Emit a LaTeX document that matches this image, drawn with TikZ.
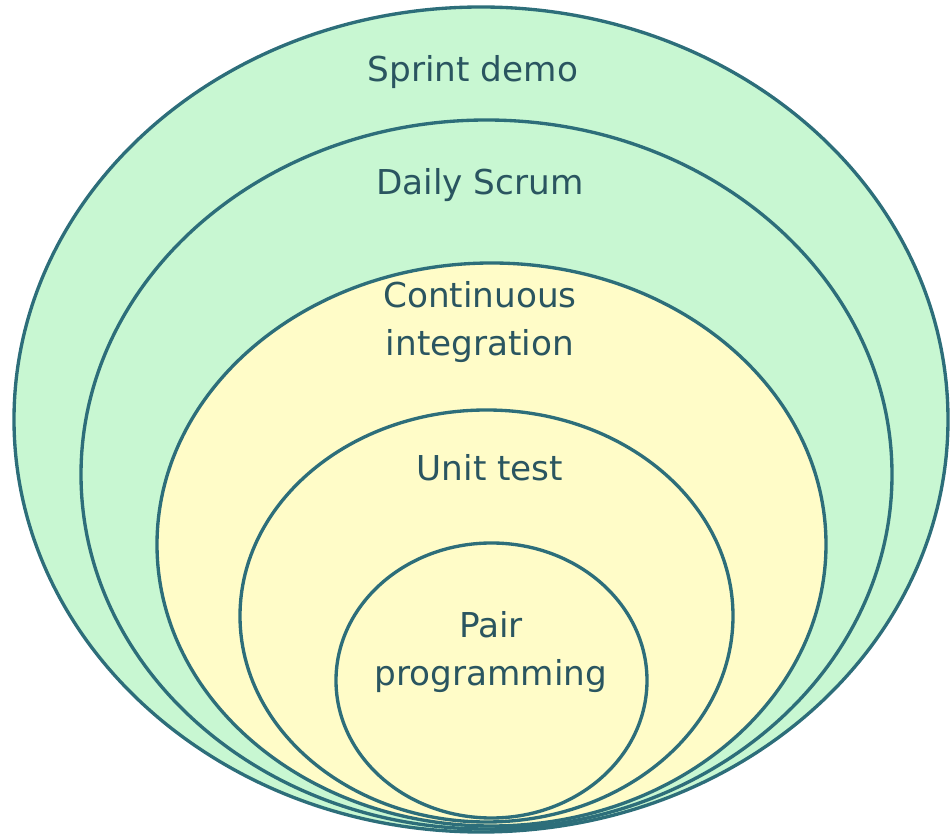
\documentclass[tikz,border=0pt]{standalone}
\usepackage{fontspec}
\setmainfont{DejaVu Sans}
\definecolor{ringgreen}{HTML}{C8F7D2}
\definecolor{ringyellow}{HTML}{FFFCC8}
\definecolor{ringline}{HTML}{2D6E7A}
\definecolor{ringtext}{HTML}{2A5560}
\tikzset{ring/.style={draw=ringline,line width=1.9pt},
	ringlabel/.style={text=ringtext,align=center,font=\fontsize{19.5}{27}\selectfont}}
\begin{document}
\begin{tikzpicture}[x=0.02cm,y=-0.02cm,line join=round,line cap=round]
	\useasboundingbox (0,0) rectangle (951,837);
	% the five rings, outer first
	\foreach \cx/\cy/\rx/\ry/\f in {481/419.5/467/412.5/ringgreen,486.5/474.5/405.5/354.5/ringgreen,491.5/544.5/334.5/281.5/ringyellow,486.5/616/246.5/206/ringyellow,491.5/680.5/155.5/137.5/ringyellow}
	{\draw[ring,fill=\f] (\cx,\cy) ellipse [x radius=\rx,y radius=\ry];}
	\node[ringlabel] (sprint) at (473,72) {Sprint demo};
	\node[ringlabel] (daily) at (480,185) {Daily Scrum};
	\node[ringlabel] (ci) at (480,322) {Continuous\\integration};
	\node[ringlabel] (unit) at (490,468) {Unit test};
	\node[ringlabel] (pair) at (491,652) {Pair\\programming};
\end{tikzpicture}
\end{document}
